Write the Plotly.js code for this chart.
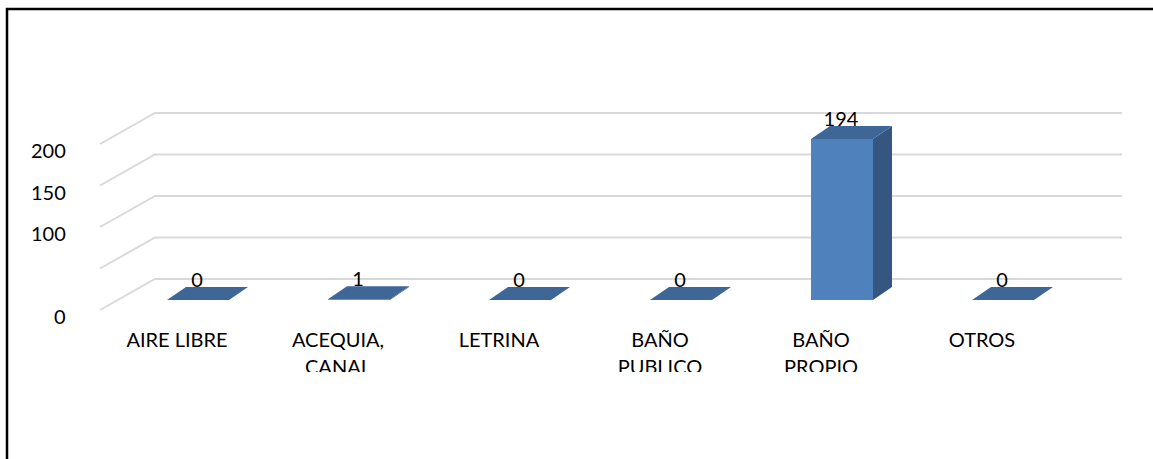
<!DOCTYPE html>
<html><head><meta charset="utf-8">
<script src="https://cdn.plot.ly/plotly-3.0.1.min.js"></script>
<style>html,body{margin:0;padding:0;background:#fff;}#chart{width:1153px;height:459px;}</style>
</head><body><div id="chart"></div>
<script>
// ---- data ----
const categories = ['AIRE LIBRE', 'ACEQUIA,<br>CANAL', 'LETRINA', 'BAÑO<br>PUBLICO', 'BAÑO<br>PROPIO', 'OTROS'];
const values = [0, 1, 0, 0, 194, 0];
const gridValues = [0, 50, 100, 150, 200];
const tickValues = [0, 100, 150, 200];
const tickLabels = ['0', '100', '150', '200'];

// ---- layout geometry (pixels) ----
const W = 1153, H = 459, PLOT_H = 372;
const PX_X = 161, X0 = 198;          // px per category, px of first category
const PY = 0.83, Y0 = 300;           // px per unit, px of bar floor
const ux = p => p / PX_X, uy = p => p / PY;
const halfW = ux(31), bdx = ux(19), bdy = uy(13);
const FONT = "Lato, 'Noto Sans', sans-serif";
const FS = 20;

const traces = [];
// front faces
traces.push({
  type: 'bar', x: categories.map((c, i) => i), y: values, width: 2 * halfW,
  marker: {color: '#4f81bd', line: {width: 0}}, hoverinfo: 'skip', showlegend: false
});
// side + top faces
values.forEach((v, i) => {
  traces.push({
    type: 'scatter', mode: 'lines', fill: 'toself', fillcolor: '#345680',
    line: {width: 0, color: '#345680'}, hoverinfo: 'skip', showlegend: false,
    x: [i + halfW, i + halfW, i + halfW + bdx, i + halfW + bdx, i + halfW],
    y: [0, v, v + bdy, bdy, 0]
  });
  traces.push({
    type: 'scatter', mode: 'lines', fill: 'toself', fillcolor: '#3e6697',
    line: {width: 0, color: '#3e6697'}, hoverinfo: 'skip', showlegend: false,
    x: [i - halfW, i + halfW, i + halfW + bdx, i - halfW + bdx, i - halfW],
    y: [v, v, v + bdy, v + bdy, v]
  });
});
// data labels
traces.push({
  type: 'scatter', mode: 'text', hoverinfo: 'skip', showlegend: false, cliponaxis: false,
  x: values.map((v, i) => i - ux(1)), y: values.map(v => v + uy(18)),
  text: values.map(String), textposition: 'middle center',
  textfont: {family: FONT, size: FS, color: '#000'}
});
// category labels, one trace per text line (clipped at plot bottom)
const catLines = categories.map(c => c.split('<br>'));
[0, 1].forEach(k => {
  traces.push({
    type: 'scatter', mode: 'text', hoverinfo: 'skip', showlegend: false, cliponaxis: true,
    x: categories.map((c, i) => i - ux(21)), y: categories.map(() => uy(Y0 - (332 + 27 * k))),
    text: catLines.map(l => l[k] || ''), textposition: 'bottom center',
    textfont: {family: FONT, size: FS, color: '#000'}
  });
});

const annotations = tickValues.map((g, k) => ({
  xref: 'paper', yref: 'y', x: 68 / W, y: g - uy(16), xanchor: 'right', yanchor: 'middle',
  text: tickLabels[k], showarrow: false, font: {family: FONT, size: FS, color: '#000'}
}));

// gridlines (side wall diagonal + back wall), behind the bars
const gridShapes = gridValues.map(g => ({
  type: 'path', xref: 'x', yref: 'y', layer: 'below',
  path: `M ${ux(100 - X0)} ${g - uy(10)} L ${ux(155 - X0)} ${g + uy(21)} L ${ux(1122 - X0)} ${g + uy(21)}`,
  line: {color: '#d9d9d9', width: 2}
}));

const layout = {
  width: W, height: H, margin: {l: 0, r: 0, t: 0, b: 0},
  paper_bgcolor: '#fff', plot_bgcolor: 'rgba(0,0,0,0)', showlegend: false,
  xaxis: {range: [-X0 / PX_X, (W - X0) / PX_X], visible: false, fixedrange: true},
  yaxis: {range: [(Y0 - PLOT_H) / PY, Y0 / PY], domain: [1 - PLOT_H / H, 1], visible: false, fixedrange: true},
  annotations: annotations,
  shapes: gridShapes.concat([{
    type: 'path', xref: 'paper', yref: 'paper',
    path: `M ${7 / W} 0 L ${7 / W} ${1 - 9 / H} L 1 ${1 - 9 / H}`,
    line: {color: '#000', width: 2.5}
  }])
};
Plotly.newPlot('chart', traces, layout, {displayModeBar: false, staticPlot: true});
</script></body></html>
